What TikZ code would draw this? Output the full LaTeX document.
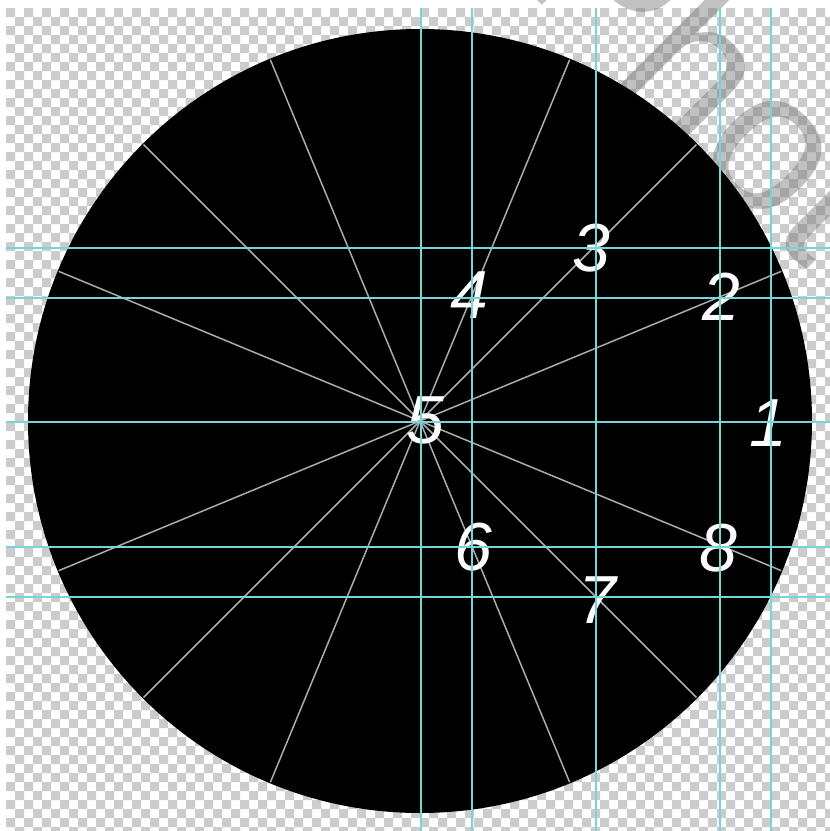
\documentclass[tikz,border=0pt]{standalone}
\usepackage{fontspec}
\setmainfont{Liberation Sans}
\definecolor{ckgray}{HTML}{CCCCCC}
\definecolor{guidecol}{HTML}{74D7D7}
\definecolor{raycol}{HTML}{ABABAB}
\definecolor{wmarkcol}{HTML}{777777}
\begin{document}
\begin{tikzpicture}[x=1pt,y=-1pt,
  numlabel/.style={text=white, inner sep=0pt, anchor=center, font=\fontsize{68}{68}\selectfont\itshape},
  raystyle/.style={draw=raycol, line width=1.5pt},
  guidestyle/.style={draw=guidecol, line width=1.7pt}]
\useasboundingbox (0,0) rectangle (830,831);
\fill[white] (0,0) rectangle (830,831);
% transparent-canvas checkerboard
\begin{scope}
  \clip (6,8) rectangle (830,831);
  \fill[ckgray] \foreach \j in {0,...,91}{ \foreach \k in {0,...,45}{
      ({6+9*mod(\j,2)+18*\k},{8+9*\j}) rectangle ++(9,9) } };
\end{scope}
% watermark (behind the disc)
\node[rotate=-45, anchor=base west, text=wmarkcol, opacity=0.45, inner sep=0pt,
      font=\fontsize{200}{200}\selectfont] (wm) at (517,-20) {Photo};
% disc
\coordinate (C) at (420,421);
\fill[black] (C) circle (392);
% rays
\foreach \a in {22.5,45,67.5,112.5,135,157.5,202.5,225,247.5,292.5,315,337.5}
  \draw[raystyle] (C) -- +(\a:391);
% numbers
\node[numlabel] (n1) at (768,423) {1};
\node[numlabel] (n2) at (721,297) {2};
\node[numlabel] (n3) at (591,248) {3};
\node[numlabel] (n4) at (469,295) {4};
\node[numlabel] (n5) at (425,420) {5};
\node[numlabel] (n6) at (473,547) {6};
\node[numlabel] (n7) at (597,600) {7};
\node[numlabel] (n8) at (718,548) {8};
% guides
\foreach \x in {421,472,596,720,771}
  \draw[guidestyle] (\x,8) -- (\x,831);
\foreach \y in {248,298,422,547,597}
  \draw[guidestyle] (6,\y) -- (830,\y);
\end{tikzpicture}
\end{document}
